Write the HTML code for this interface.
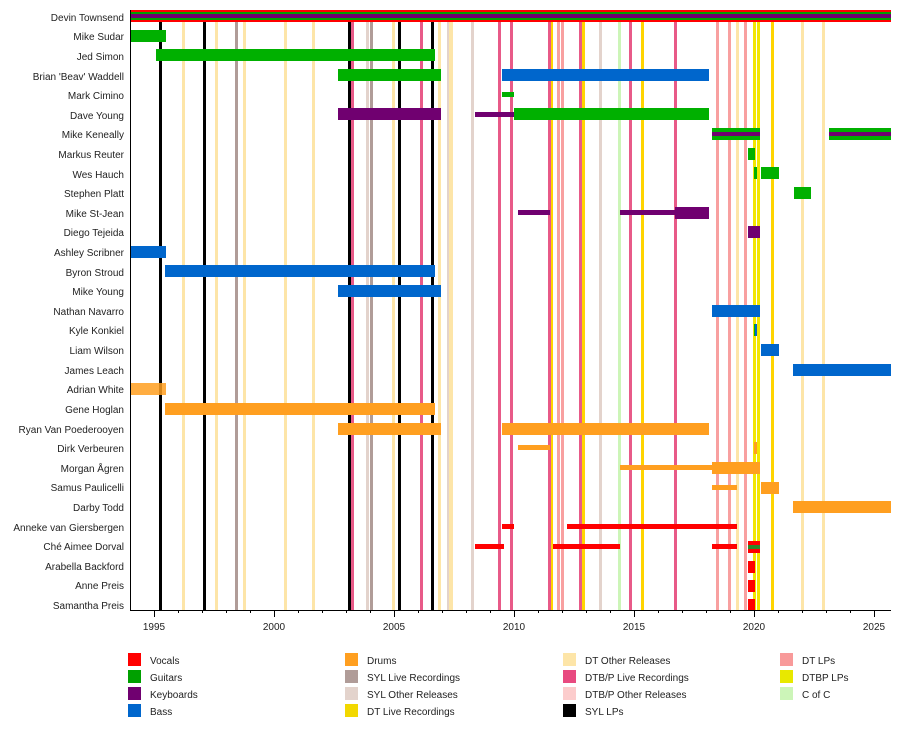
<!DOCTYPE html>
<html><head><meta charset="utf-8"><style>
body{margin:0;background:#fff;}
svg text{font-family:"Liberation Sans","Noto Sans CJK JP",sans-serif;font-size:10px;fill:#222;}
</style></head><body>
<svg width="900" height="730" xmlns="http://www.w3.org/2000/svg">
<g id="vlines">
<!-- DT other -->
<g fill="#fde5a8">
<rect x="182" y="22" width="3" height="588"/><rect x="215" y="22" width="3" height="588"/><rect x="243" y="22" width="3" height="588"/><rect x="284" y="22" width="3" height="588"/><rect x="312" y="22" width="3" height="588"/><rect x="392" y="22" width="3" height="588"/><rect x="438" y="22" width="3" height="588"/><rect x="449" y="22" width="4" height="588"/><rect x="736" y="22" width="3" height="588"/><rect x="801" y="22" width="3" height="588"/><rect x="822" y="22" width="3" height="588"/>
</g>
<g fill="#e3d3cc"><rect x="366" y="22" width="3" height="588"/><rect x="471" y="22" width="3" height="588"/><rect x="599" y="22" width="3" height="588"/><rect x="447" y="22" width="2" height="588"/></g>
<g fill="#b09c98"><rect x="235" y="22" width="3" height="588"/><rect x="370" y="22" width="3" height="588"/></g>
<g fill="#ccf5b8"><rect x="618" y="22" width="3" height="588"/></g>
<g fill="#f8a0a0"><rect x="557" y="22" width="3" height="588"/><rect x="561" y="22" width="3" height="588"/><rect x="716" y="22" width="3" height="588"/><rect x="728" y="22" width="3" height="588"/><rect x="744" y="22" width="3" height="588"/></g>
<g fill="#e85a88"><rect x="351" y="22" width="3" height="588"/><rect x="420" y="22" width="3" height="588"/><rect x="498" y="22" width="3" height="588"/><rect x="510" y="22" width="3" height="588"/><rect x="548" y="22" width="3" height="588"/><rect x="579" y="22" width="3" height="588"/><rect x="629" y="22" width="3" height="588"/><rect x="674" y="22" width="3" height="588"/></g>
<g fill="#ffd400"><rect x="551" y="22" width="2" height="588"/><rect x="582" y="22" width="3" height="588"/><rect x="641" y="22" width="3" height="588"/><rect x="771" y="22" width="3" height="588"/></g>
<g fill="#f2e600"><rect x="753" y="22" width="3" height="588"/><rect x="757" y="22" width="3" height="588"/></g>
<g fill="#000"><rect x="159" y="22" width="3" height="588"/><rect x="203" y="22" width="3" height="588"/><rect x="348" y="22" width="3" height="588"/><rect x="398" y="22" width="3" height="588"/><rect x="431" y="22" width="3" height="588"/></g>
</g>
<!-- Devin -->
<rect x="130" y="10" width="761" height="2" fill="#ff0000"/>
<rect x="130" y="12" width="761" height="2" fill="#00a000"/>
<rect x="130" y="14" width="761" height="4" fill="#700070"/>
<rect x="130" y="18" width="761" height="2" fill="#00a000"/>
<rect x="130" y="20" width="761" height="2" fill="#ff0000"/>
<g fill="#00b000">
<rect x="130" y="30" width="36" height="12"/>
<rect x="156" y="49" width="279" height="12"/>
<rect x="338" y="69" width="103" height="12"/>
<rect x="502" y="92" width="12" height="5"/>
<rect x="514" y="108" width="195" height="12"/>
<rect x="712" y="128" width="48" height="12"/><rect x="829" y="128" width="62" height="12"/>
<rect x="748" y="148" width="7" height="12"/>
<rect x="754" y="167" width="3" height="12"/><rect x="761" y="167" width="18" height="12"/>
<rect x="794" y="187" width="17" height="12"/>
<rect x="754" y="324" width="3" height="12"/>
</g>
<g fill="#700070">
<rect x="712" y="132" width="48" height="4"/><rect x="829" y="132" width="62" height="4"/>
<rect x="338" y="108" width="103" height="12"/>
<rect x="475" y="112" width="39" height="5"/>
<rect x="518" y="210" width="32" height="5"/><rect x="620" y="210" width="55" height="5"/><rect x="675" y="207" width="34" height="12"/>
<rect x="748" y="226" width="12" height="12"/>
</g>
<g fill="#0066cc">
<rect x="502" y="69" width="207" height="12"/>
<rect x="130" y="246" width="36" height="12"/>
<rect x="165" y="265" width="270" height="12"/>
<rect x="338" y="285" width="103" height="12"/>
<rect x="712" y="305" width="48" height="12"/>
<rect x="755" y="324" width="2" height="12"/>
<rect x="761" y="344" width="18" height="12"/>
<rect x="793" y="364" width="98" height="12"/>
</g>
<g fill="#ff9f20">
<rect x="130" y="383" width="36" height="12" opacity="0.85"/>
<rect x="165" y="403" width="270" height="12"/>
<rect x="338" y="423" width="103" height="12"/><rect x="502" y="423" width="207" height="12"/>
<rect x="518" y="445" width="32" height="5"/><rect x="754" y="442" width="3" height="12"/>
<rect x="620" y="465" width="92" height="5"/><rect x="712" y="462" width="48" height="12"/>
<rect x="712" y="485" width="25" height="5"/><rect x="761" y="482" width="18" height="12"/>
<rect x="793" y="501" width="98" height="12"/>
</g>
<g fill="#ff0000">
<rect x="502" y="524" width="12" height="5"/><rect x="567" y="524" width="170" height="5"/>
<rect x="475" y="544" width="29" height="5"/><rect x="553" y="544" width="67" height="5"/><rect x="712" y="544" width="25" height="5"/><rect x="748" y="541" width="12" height="12"/>
<rect x="748" y="561" width="7" height="12"/>
<rect x="748" y="580" width="7" height="12"/>
<rect x="748" y="599" width="7" height="11"/>
</g>
<rect x="748" y="545" width="12" height="4" fill="#2a8a2a"/>
<!-- axes -->
<rect x="130" y="10" width="1" height="601" fill="#000"/>
<rect x="130" y="610" width="761" height="1" fill="#000"/>
<g stroke="#000" stroke-width="1">
<path d="M154.5 610v7M274.5 610v7M394.5 610v7M514.5 610v7M634.5 610v7M754.5 610v7M874.5 610v7"/>
<path d="M178.5 610v3M202.5 610v3M226.5 610v3M250.5 610v3M298.5 610v3M322.5 610v3M346.5 610v3M370.5 610v3M418.5 610v3M442.5 610v3M466.5 610v3M490.5 610v3M538.5 610v3M562.5 610v3M586.5 610v3M610.5 610v3M658.5 610v3M682.5 610v3M706.5 610v3M730.5 610v3M778.5 610v3M802.5 610v3M826.5 610v3M850.5 610v3"/>
</g>
<g text-anchor="middle">
<text x="154" y="630">1995</text><text x="274" y="630">2000</text><text x="394" y="630">2005</text><text x="514" y="630">2010</text><text x="634" y="630">2015</text><text x="754" y="630">2020</text><text x="874" y="630">2025</text>
</g>
<g text-anchor="end">
<text x="124" y="21">Devin Townsend</text>
<text x="124" y="40">Mike Sudar</text>
<text x="124" y="60">Jed Simon</text>
<text x="124" y="80">Brian 'Beav' Waddell</text>
<text x="124" y="99">Mark Cimino</text>
<text x="124" y="119">Dave Young</text>
<text x="124" y="138">Mike Keneally</text>
<text x="124" y="158">Markus Reuter</text>
<text x="124" y="178">Wes Hauch</text>
<text x="124" y="197">Stephen Platt</text>
<text x="124" y="217">Mike St-Jean</text>
<text x="124" y="236">Diego Tejeida</text>
<text x="124" y="256">Ashley Scribner</text>
<text x="124" y="276">Byron Stroud</text>
<text x="124" y="295">Mike Young</text>
<text x="124" y="315">Nathan Navarro</text>
<text x="124" y="334">Kyle Konkiel</text>
<text x="124" y="354">Liam Wilson</text>
<text x="124" y="374">James Leach</text>
<text x="124" y="393">Adrian White</text>
<text x="124" y="413">Gene Hoglan</text>
<text x="124" y="433">Ryan Van Poederooyen</text>
<text x="124" y="452">Dirk Verbeuren</text>
<text x="124" y="472">Morgan Ågren</text>
<text x="124" y="491">Samus Paulicelli</text>
<text x="124" y="511">Darby Todd</text>
<text x="124" y="531">Anneke van Giersbergen</text>
<text x="124" y="550">Ché Aimee Dorval</text>
<text x="124" y="570">Arabella Backford</text>
<text x="124" y="589">Anne Preis</text>
<text x="124" y="609">Samantha Preis</text>
</g>
<!-- legend -->
<g>
<rect x="128" y="653" width="13" height="13" fill="#ff0000"/><text x="150" y="664">Vocals</text>
<rect x="128" y="670" width="13" height="13" fill="#00a000"/><text x="150" y="681">Guitars</text>
<rect x="128" y="687" width="13" height="13" fill="#700070"/><text x="150" y="698">Keyboards</text>
<rect x="128" y="704" width="13" height="13" fill="#0066cc"/><text x="150" y="715">Bass</text>
<rect x="345" y="653" width="13" height="13" fill="#ff9f20"/><text x="367" y="664">Drums</text>
<rect x="345" y="670" width="13" height="13" fill="#b09c98"/><text x="367" y="681">SYL Live Recordings</text>
<rect x="345" y="687" width="13" height="13" fill="#e3d3cc"/><text x="367" y="698">SYL Other Releases</text>
<rect x="345" y="704" width="13" height="13" fill="#f2d800"/><text x="367" y="715">DT Live Recordings</text>
<rect x="563" y="653" width="13" height="13" fill="#fde5a8"/><text x="585" y="664">DT Other Releases</text>
<rect x="563" y="670" width="13" height="13" fill="#e84a80"/><text x="585" y="681">DTB/P Live Recordings</text>
<rect x="563" y="687" width="13" height="13" fill="#fccccc"/><text x="585" y="698">DTB/P Other Releases</text>
<rect x="563" y="704" width="13" height="13" fill="#000"/><text x="585" y="715">SYL LPs</text>
<rect x="780" y="653" width="13" height="13" fill="#f89a9a"/><text x="802" y="664">DT LPs</text>
<rect x="780" y="670" width="13" height="13" fill="#e8e800"/><text x="802" y="681">DTBP LPs</text>
<rect x="780" y="687" width="13" height="13" fill="#ccf5b8"/><text x="802" y="698">C of C</text>
</g>
</svg>
</body></html>
